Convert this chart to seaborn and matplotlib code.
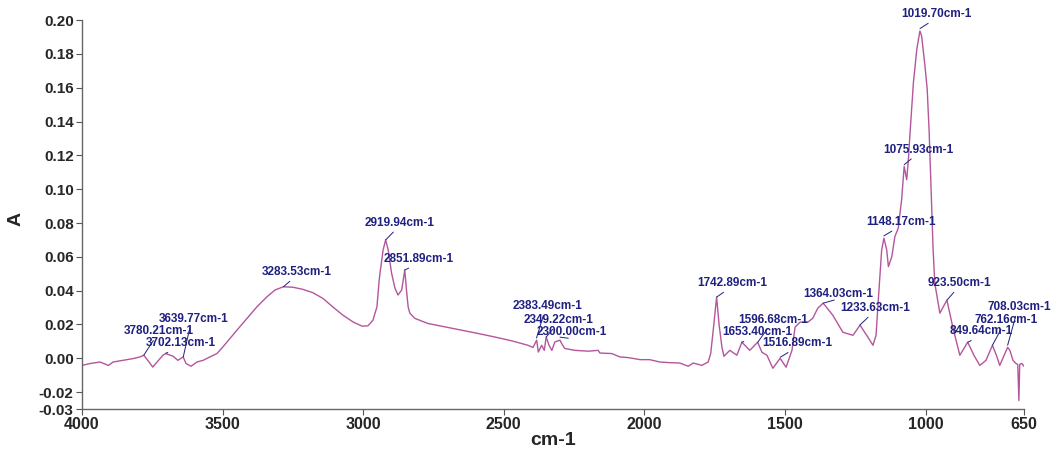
import numpy as np
import pandas as pd
import matplotlib
matplotlib.use("Agg")
import matplotlib.pyplot as plt
import seaborn as sns

# ---------------- data ----------------
wavenumber = [4000, 3971, 3936, 3906, 3889, 3854, 3819, 3794, 3780, 3766, 3748, 3733,
              3712, 3702, 3676, 3659, 3640, 3630, 3612, 3591, 3569, 3545, 3520, 3499,
              3474, 3449, 3413, 3378, 3342, 3313, 3284, 3249, 3215, 3179, 3143, 3108,
              3072, 3036, 3004, 2983, 2965, 2951, 2943, 2940, 2929, 2920, 2911, 2899,
              2887, 2876, 2863, 2852, 2846, 2840, 2834, 2816, 2770, 2709, 2648, 2592,
              2532, 2471, 2414, 2396, 2383, 2377, 2365, 2356, 2349, 2339, 2329, 2318,
              2300, 2294, 2283, 2247, 2200, 2164, 2158, 2116, 2087, 2057, 2015, 1981,
              1945, 1909, 1874, 1844, 1826, 1796, 1773, 1764, 1755, 1743, 1734, 1724,
              1717, 1696, 1671, 1653, 1625, 1597, 1582, 1564, 1543, 1517, 1496, 1475,
              1464, 1446, 1418, 1401, 1383, 1364, 1330, 1294, 1258, 1233, 1205, 1187,
              1176, 1168, 1156, 1148, 1138, 1132, 1120, 1109, 1097, 1085, 1076, 1067,
              1061, 1055, 1043, 1031, 1020, 1014, 1002, 994, 987, 979, 973, 967,
              960, 949, 924, 903, 878, 850, 828, 807, 785, 762, 748, 736,
              708, 700, 689, 679, 672, 668, 665, 658, 650]
absorbance = [-0.0042, -0.0031, -0.0022, -0.0042, -0.0022, -0.0012, -0.0002, 0.0008, 0.0018, -0.0012, -0.0052, -0.0022,
              0.0018, 0.0028, 0.0012, -0.0012, 0.0008, -0.0031, -0.0047, -0.0022, -0.0012, 0.0008, 0.0028, 0.0067,
              0.0117, 0.0166, 0.0236, 0.0304, 0.0364, 0.0404, 0.0423, 0.0420, 0.0408, 0.0388, 0.0354, 0.0304,
              0.0255, 0.0215, 0.0190, 0.0192, 0.0226, 0.0304, 0.0463, 0.0504, 0.0641, 0.0700, 0.0641, 0.0504,
              0.0415, 0.0374, 0.0404, 0.0522, 0.0404, 0.0304, 0.0267, 0.0236, 0.0206, 0.0186, 0.0166, 0.0147,
              0.0126, 0.0103, 0.0077, 0.0064, 0.0107, 0.0037, 0.0077, 0.0047, 0.0126, 0.0077, 0.0047, 0.0097,
              0.0107, 0.0087, 0.0058, 0.0047, 0.0042, 0.0047, 0.0031, 0.0028, 0.0008, 0.0004, -0.0008, -0.0008,
              -0.0022, -0.0026, -0.0028, -0.0047, -0.0028, -0.0042, -0.0022, 0.0028, 0.0166, 0.0362, 0.0196, 0.0065,
              0.0012, 0.0047, 0.0018, 0.0095, 0.0047, 0.0095, 0.0036, 0.0018, -0.0059, 0.0000, -0.0053, 0.0047,
              0.0184, 0.0214, 0.0214, 0.0237, 0.0297, 0.0326, 0.0255, 0.0154, 0.0136, 0.0196, 0.0125, 0.0077,
              0.0136, 0.0344, 0.0641, 0.0710, 0.0641, 0.0542, 0.0601, 0.0720, 0.0770, 0.0938, 0.1135, 0.1056,
              0.1175, 0.1335, 0.1632, 0.1828, 0.1936, 0.1907, 0.1729, 0.1590, 0.1335, 0.0938, 0.0641, 0.0443,
              0.0374, 0.0267, 0.0344, 0.0184, 0.0018, 0.0095, 0.0018, -0.0042, -0.0012, 0.0077, 0.0018, -0.0042,
              0.0065, 0.0047, -0.0012, -0.0030, -0.0036, -0.0250, -0.0036, -0.0030, -0.0047]

# labelled peaks
peak_wn = [1019.70, 1075.93, 1148.17, 923.50, 708.03, 762.16, 849.64, 1742.89,
           1364.03, 1233.63, 1596.68, 1653.40, 1516.89, 2383.49, 2349.22, 2300.00,
           2919.94, 2851.89, 3283.53, 3639.77, 3780.21, 3702.13]
peak_abs = [0.1950, 0.1145, 0.0724, 0.0344, 0.0077, 0.0077, 0.0095, 0.0362,
            0.0326, 0.0196, 0.0095, 0.0095, 0.0006, 0.0120, 0.0125, 0.0125,
            0.0700, 0.0522, 0.0423, 0.0008, 0.0018, 0.0030]

# layout: label text centres (data coordinates)
label_x = [960, 1024, 1088, 878, 665, 714, 803, 1689,
           1312, 1180, 1543, 1600, 1457, 2343, 2304, 2258,
           2869, 2802, 3235, 3602, 3726, 3648]
label_y = [0.2036, 0.1234, 0.0807, 0.0445, 0.0303, 0.0226, 0.0160, 0.0445,
           0.0380, 0.0297, 0.0226, 0.0154, 0.0089, 0.0309, 0.0226, 0.0154,
           0.0801, 0.0588, 0.0510, 0.0231, 0.0160, 0.0089]

x_ticks = [4000, 3500, 3000, 2500, 2000, 1500, 1000, 650]
y_ticks = [-0.03, -0.02, 0.00, 0.02, 0.04, 0.06, 0.08, 0.10, 0.12, 0.14, 0.16, 0.18, 0.20]

# ---------------- styling ----------------
sns.set_style("ticks")
plt.rcParams["font.family"] = ["Liberation Sans", "DejaVu Sans"]

LINE = "#b4569c"
NAVY = "#1f2080"

fig = plt.figure(figsize=(10.59, 4.57), dpi=100)
ax = fig.add_axes([0.0774, 0.105, 0.8895, 0.851])

df = pd.DataFrame({"cm-1": wavenumber, "A": absorbance})
sns.lineplot(data=df, x="cm-1", y="A", sort=False, estimator=None,
             color=LINE, lw=1.0, ax=ax)

ax.set_xlim(4000, 650)
ax.set_ylim(-0.03, 0.20)
ax.set_xticks(x_ticks)
ax.set_xticklabels([str(t) for t in x_ticks], fontsize=11.5, fontweight="bold")
ax.set_yticks(y_ticks)
ax.set_yticklabels([f"{t:.2f}" for t in y_ticks], fontsize=11, fontweight="bold")
ax.tick_params(axis="both", direction="out", length=4, width=0.8, color="#555555", pad=2)

for s in ["top", "right"]:
    ax.spines[s].set_visible(False)
for s in ["left", "bottom"]:
    ax.spines[s].set_color("#666666")
    ax.spines[s].set_linewidth(1.0)

ax.set_xlabel("cm-1", fontsize=14, fontweight="bold")
ax.set_ylabel("A", fontsize=14, fontweight="bold")
ax.xaxis.set_label_coords(0.5, -0.06)
ax.yaxis.set_label_coords(-0.061, 0.49)

for w, a, tx, ty in zip(peak_wn, peak_abs, label_x, label_y):
    ax.annotate(f"{w:.2f}cm-1", xy=(w, a), xytext=(tx, ty), textcoords="data",
                ha="center", va="center", fontsize=8.5, fontweight="bold", color=NAVY,
                annotation_clip=False,
                arrowprops=dict(arrowstyle="-", color=NAVY, lw=0.7,
                                shrinkA=0, shrinkB=0, relpos=(0.45, 0.0)))

fig.savefig("out.png", dpi=100)
